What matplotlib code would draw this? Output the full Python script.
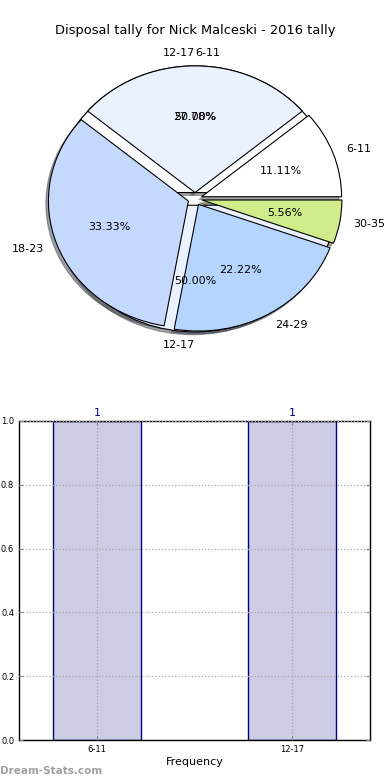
import matplotlib
matplotlib.use("Agg")
import matplotlib.pyplot as plt
import numpy as np

# season tally by disposal band (top pie)
age_groups = ['6-11', '12-17', '18-23', '24-29', '30-35']
tally = [2, 5, 6, 4, 1]
pie_colors = ['#ffffff', '#ebf2ff', '#c5d9ff', '#b5d5ff', '#d0ec8a']

# frequency chart (bottom) - also drawn as a pie underneath
freq_groups = ['6-11', '12-17']
freq_counts = [1, 1]

fig = plt.figure(figsize=(3.9, 7.8), dpi=100)

ax1 = fig.add_axes([20/390, 0.542, 350/390, 0.406])
wp = {'edgecolor': 'black', 'linewidth': 0.8}
shad = {'ox': -0.013, 'oy': -0.016}
w2, t2, a2 = ax1.pie(freq_counts, labels=freq_groups, colors=pie_colors[:2],
                     explode=[0.05]*len(freq_counts), autopct='%1.2f%%', shadow=shad,
                     wedgeprops=wp, textprops={'fontsize': 8})
w1, t1, a1 = ax1.pie(tally, labels=age_groups, colors=pie_colors,
                     explode=[0.05]*len(tally), autopct='%1.2f%%', shadow=shad,
                     wedgeprops=wp, textprops={'fontsize': 8})
# old matplotlib alignment of the near-vertical labels
t2[0].set_ha('left')
t2[1].set_ha('right')
t1[1].set_ha('right')
ax1.set_aspect('auto')
ax1.set_xlim(-1.25, 1.25)
ax1.set_ylim(-1.25, 1.25)
ax1.set_title('Disposal tally for Nick Malceski - 2016 tally', fontsize=9.4, pad=4.5)

ax2 = fig.add_axes([19/390, 40/780, 351/390, 319/780])
x = np.arange(len(freq_groups))
ax2.bar(x, freq_counts, width=0.45, color='#ccccE4', edgecolor='#000080', linewidth=1)
for xi, v in zip(x, freq_counts):
    ax2.annotate(str(v), (xi, v), xytext=(0, 2), textcoords='offset points',
                 ha='center', va='bottom', color='#000080', fontsize=8)
ax2.set_xlim(-0.4, 1.4)
ax2.set_ylim(0, 1)
ax2.set_xticks(x, freq_groups)
ax2.set_yticks(np.arange(0, 1.01, 0.2))
ax2.set_yticklabels(['%.1f' % t for t in np.arange(0, 1.01, 0.2)])
ax2.tick_params(direction='in', top=True, right=True, labelsize=6, length=3, color='#888888')
ax2.grid(True, linestyle=':', color='#a8a8a8', linewidth=0.9)
ax2.set_axisbelow(False)
for s in ax2.spines.values():
    s.set_linewidth(1)
ax2.set_xlabel('Frequency', fontsize=8, labelpad=2)

fig.text(0.0, 0.008, 'Dream-Stats.com', color='#a0a0a0', fontsize=7.5, weight='bold')

fig.savefig('out.png', dpi=100)
